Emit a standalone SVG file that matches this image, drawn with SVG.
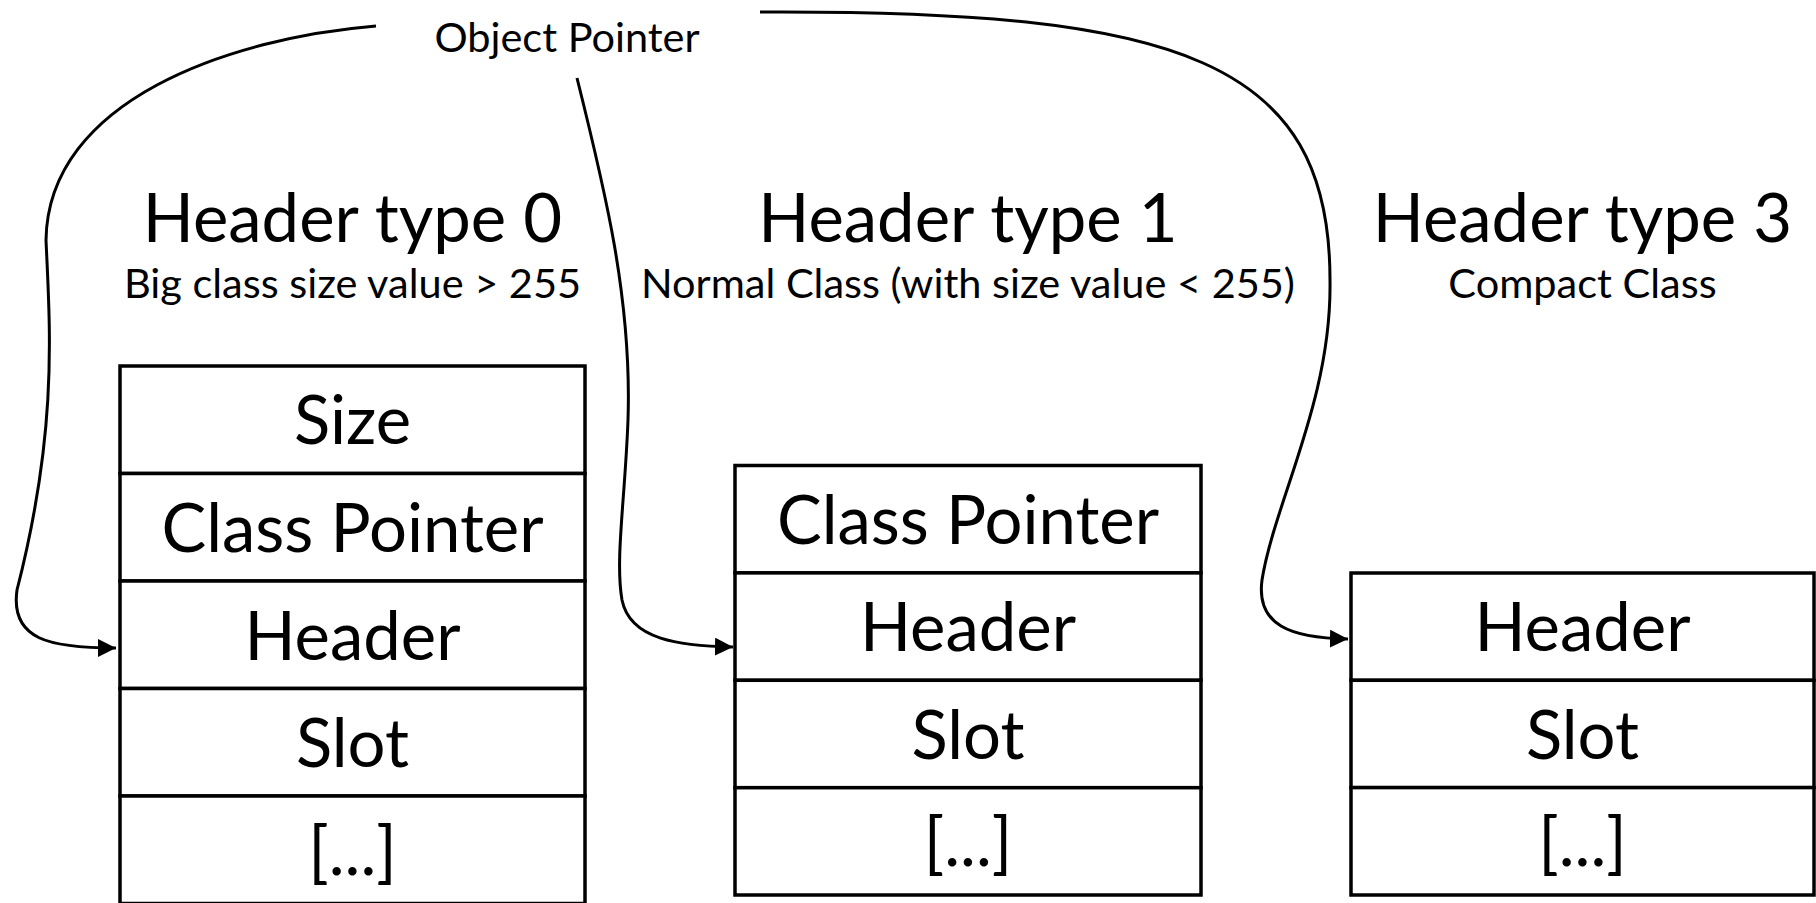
<svg xmlns="http://www.w3.org/2000/svg" width="1816" height="903" viewBox="0 0 1816 903">
  <style>
    .cell { fill: #ffffff; stroke: #000000; stroke-width: 3.5; }
    .big { font-family: Lato, "Open Sans", "Liberation Sans", sans-serif; font-size: 67px; fill: #000000; text-anchor: middle; }
    .sub { font-family: Lato, "Open Sans", "Liberation Sans", sans-serif; font-size: 41.5px; fill: #000000; text-anchor: middle; }
    .wire { fill: none; stroke: #000000; stroke-width: 3; }
  </style>
  <defs>
    <marker id="tip" markerUnits="userSpaceOnUse" markerWidth="19" markerHeight="19" refX="18" refY="9" orient="auto">
      <path d="M0,0 L18,9 L0,18 z" fill="#000000"/>
    </marker>
  </defs>
  <rect width="1816" height="903" fill="#ffffff"/>

  <!-- label at the origin of the pointers -->
  <g id="object-pointer">
    <text class="sub" x="567" y="51.7">Object Pointer</text>
  </g>

  <!-- Header type 0: size word, class pointer, header, slots -->
  <g id="type0">
    <text class="big" x="352.5" y="241.7">Header type 0</text>
    <text class="sub" x="352.5" y="297.7">Big class size value &gt; 255</text>
    <rect class="cell" x="120" y="366" width="465" height="107.5"/>
    <rect class="cell" x="120" y="473.5" width="465" height="107.5"/>
    <rect class="cell" x="120" y="581" width="465" height="107.5"/>
    <rect class="cell" x="120" y="688.5" width="465" height="107.5"/>
    <rect class="cell" x="120" y="796" width="465" height="107.5"/>
    <text class="big" x="352.5" y="444">Size</text>
    <text class="big" x="352.5" y="552">Class Pointer</text>
    <text class="big" x="352.5" y="660">Header</text>
    <text class="big" x="352.5" y="767">Slot</text>
    <text class="big" x="352.5" y="875">[...]</text>
  </g>

  <!-- Header type 1: class pointer, header, slots -->
  <g id="type1">
    <text class="big" x="968" y="241.7">Header type 1</text>
    <text class="sub" x="968" y="297.7">Normal Class (with size value &lt; 255)</text>
    <rect class="cell" x="735" y="465.5" width="466" height="107.4"/>
    <rect class="cell" x="735" y="572.9" width="466" height="107.4"/>
    <rect class="cell" x="735" y="680.3" width="466" height="107.4"/>
    <rect class="cell" x="735" y="787.7" width="466" height="107.3"/>
    <text class="big" x="968" y="543.7">Class Pointer</text>
    <text class="big" x="968" y="651">Header</text>
    <text class="big" x="968" y="758.5">Slot</text>
    <text class="big" x="968" y="866">[...]</text>
  </g>

  <!-- Header type 3: header, slots -->
  <g id="type3">
    <text class="big" x="1582.5" y="241.7">Header type 3</text>
    <text class="sub" x="1582.5" y="297.7">Compact Class</text>
    <rect class="cell" x="1351" y="573" width="463" height="107.3"/>
    <rect class="cell" x="1351" y="680.3" width="463" height="107.3"/>
    <rect class="cell" x="1351" y="787.6" width="463" height="107.4"/>
    <text class="big" x="1582.5" y="651">Header</text>
    <text class="big" x="1582.5" y="758.5">Slot</text>
    <text class="big" x="1582.5" y="866">[...]</text>
  </g>

  <!-- pointers into each header word -->
  <g id="connectors">
    <path class="wire" marker-end="url(#tip)" d="M376,26 C230,38 48,100 46,240 C50,330 58,430 17,590 C10,640 50,648 116,648"/>
    <path class="wire" marker-end="url(#tip)" d="M577,78 C605,190 632,300 628,420 C625,500 615,560 622,600 C630,640 680,646 733,647"/>
    <path class="wire" marker-end="url(#tip)" d="M760,12 C1180,10 1330,60 1330,280 C1332,400 1275,500 1262,580 C1256,625 1290,638 1348,639"/>
  </g>
</svg>
